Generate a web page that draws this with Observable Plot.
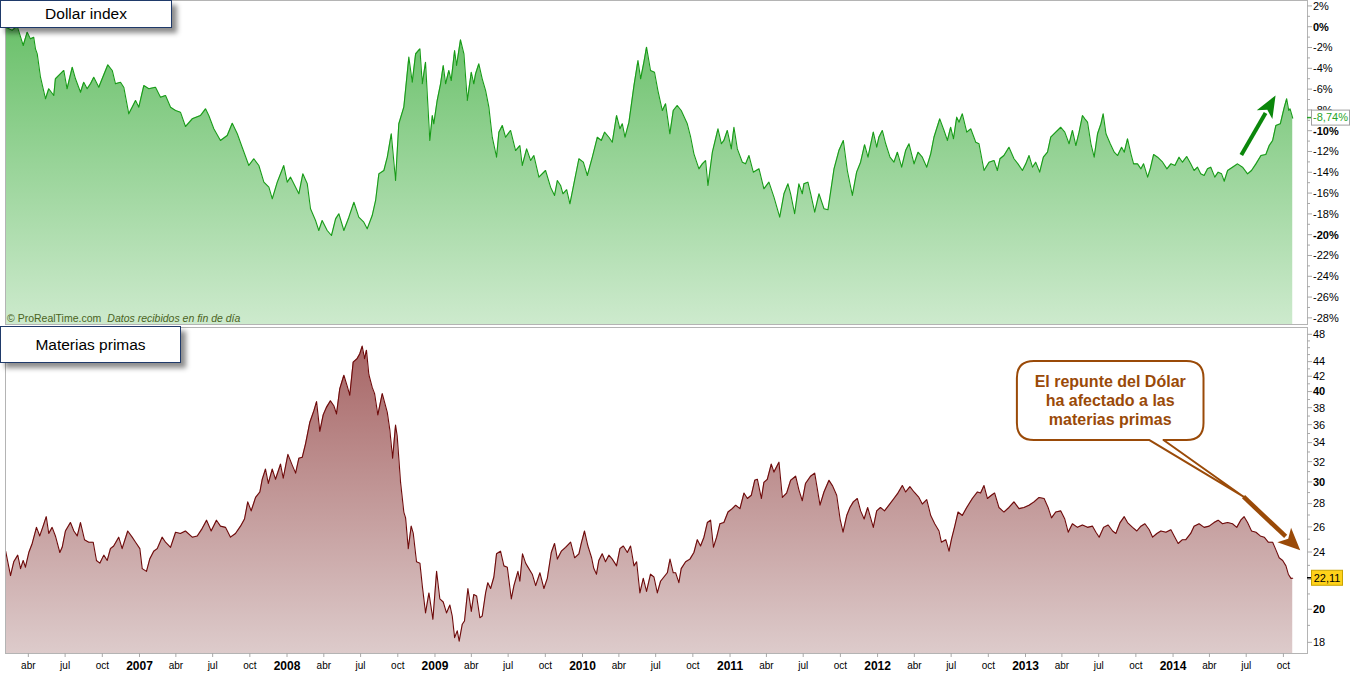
<!DOCTYPE html>
<html><head><meta charset="utf-8">
<script src="https://cdn.jsdelivr.net/npm/d3@7"></script>
<script src="https://cdn.jsdelivr.net/npm/@observablehq/plot@0.6"></script>
<style>
body{margin:0;background:#fff;}
#wrap{position:relative;width:1362px;height:673px;overflow:hidden;font-family:"Liberation Sans",Arial,sans-serif;}
#wrap svg{display:block;}
.title{position:absolute;left:0;background:#fff;border:1.5px solid #1f3a6a;box-sizing:border-box;box-shadow:5px 5px 5px rgba(0,0,0,0.45);font-size:15.5px;color:#000;display:flex;align-items:center;justify-content:center;font-family:"Liberation Sans",Arial,sans-serif;}
</style></head><body>
<div id="wrap"><div id="topPanel"></div><div id="bottomPanel"></div>
<div class="title" style="top:0;width:172px;height:28px;">Dollar index</div>
<div class="title" style="top:326px;width:181px;height:37px;">Materias primas</div>
</div>
<script>
// ---- Dollar index (% change), decimal-year dates ----
const dollarT = [2006.090,2006.134,2006.168,2006.209,2006.236,2006.258,2006.280,2006.292,2006.304,2006.326,2006.360,2006.382,2006.416,2006.427,2006.450,2006.484,2006.506,2006.541,2006.563,2006.597,2006.619,2006.642,2006.665,2006.687,2006.721,2006.744,2006.782,2006.812,2006.834,2006.868,2006.890,2006.924,2006.947,2006.970,2006.992,
2007.026,2007.060,2007.105,2007.139,2007.173,2007.207,2007.241,2007.274,2007.308,2007.354,2007.410,2007.444,2007.466,2007.500,2007.545,2007.591,2007.625,2007.659,2007.692,2007.737,2007.771,2007.805,2007.839,2007.873,2007.896,2007.930,2007.974,2007.997,
2008.020,2008.054,2008.076,2008.103,2008.133,2008.155,2008.189,2008.211,2008.234,2008.268,2008.297,2008.325,2008.347,2008.381,2008.415,2008.449,2008.482,2008.516,2008.539,2008.573,2008.596,2008.618,2008.652,2008.675,2008.702,2008.731,2008.753,2008.787,2008.821,2008.844,2008.867,2008.896,2008.912,2008.934,2008.963,2008.980,2008.990,
2009.013,2009.036,2009.054,2009.070,2009.092,2009.108,2009.131,2009.144,2009.171,2009.194,2009.217,2009.244,2009.261,2009.273,2009.295,2009.318,2009.341,2009.363,2009.386,2009.415,2009.431,2009.454,2009.476,2009.510,2009.544,2009.573,2009.589,2009.619,2009.646,2009.668,2009.702,2009.747,2009.781,2009.808,2009.827,2009.849,2009.865,2009.890,2009.912,2009.939,2009.973,
2010.003,2010.030,2010.064,2010.098,2010.125,2010.147,2010.176,2010.199,2010.228,2010.251,2010.267,2010.285,2010.312,2010.346,2010.373,2010.391,2010.413,2010.431,2010.458,2010.485,2010.508,2010.538,2010.560,2010.589,2010.612,2010.639,2010.666,2010.707,2010.730,2010.752,2010.786,2010.809,2010.831,2010.847,2010.877,2010.915,2010.938,2010.955,2010.978,
2011.005,2011.023,2011.046,2011.080,2011.102,2011.125,2011.154,2011.193,2011.226,2011.260,2011.294,2011.333,2011.362,2011.389,2011.407,2011.434,2011.463,2011.486,2011.497,2011.524,2011.543,2011.570,2011.599,2011.633,2011.660,2011.701,2011.734,2011.764,2011.791,2011.825,2011.854,2011.881,2011.908,2011.931,2011.967,2011.990,
2012.005,2012.028,2012.051,2012.080,2012.107,2012.130,2012.159,2012.186,2012.209,2012.243,2012.270,2012.299,2012.329,2012.356,2012.378,2012.417,2012.446,2012.469,2012.491,2012.510,2012.532,2012.548,2012.570,2012.600,2012.627,2012.661,2012.683,2012.717,2012.751,2012.785,2012.807,2012.825,2012.852,2012.886,2012.920,2012.947,2012.977,
2013.000,2013.022,2013.045,2013.067,2013.094,2013.119,2013.147,2013.169,2013.203,2013.237,2013.264,2013.293,2013.316,2013.339,2013.361,2013.384,2013.400,2013.418,2013.441,2013.463,2013.486,2013.509,2013.524,2013.543,2013.572,2013.599,2013.622,2013.649,2013.667,2013.689,2013.712,2013.730,2013.757,2013.780,2013.798,2013.825,2013.843,2013.866,2013.893,2013.927,2013.956,2013.983,
2014.010,2014.038,2014.061,2014.090,2014.117,2014.140,2014.163,2014.185,2014.208,2014.231,2014.253,2014.280,2014.303,2014.326,2014.344,2014.367,2014.400,2014.434,2014.468,2014.502,2014.529,2014.559,2014.593,2014.626,2014.649,2014.672,2014.694,2014.724,2014.740,2014.751,2014.767,2014.781,2014.790,2014.808];
const dollarV = [0.0,-0.3,0.1,-1.76,-0.48,-1.12,-0.96,-2.08,-2.56,-4.81,-6.88,-5.92,-6.57,-4.96,-4.64,-4.16,-5.92,-3.85,-4.96,-6.25,-5.29,-5.92,-5.44,-4.81,-5.77,-4.96,-3.62,-4.16,-5.44,-5.29,-5.77,-8.33,-7.69,-7.05,-7.69,
-5.61,-5.92,-5.77,-6.73,-6.57,-7.69,-8.01,-8.17,-9.55,-8.81,-8.49,-7.85,-8.49,-9.77,-10.89,-10.41,-9.23,-10.25,-11.54,-13.30,-12.65,-13.30,-14.90,-15.38,-16.50,-14.90,-13.30,-14.90,
-14.42,-15.38,-16.02,-14.10,-15.06,-17.46,-18.59,-19.55,-18.59,-19.55,-20.03,-18.43,-17.94,-19.55,-18.27,-16.83,-18.27,-18.75,-19.39,-18.11,-16.66,-14.10,-13.78,-12.50,-10.25,-14.74,-9.29,-7.69,-2.88,-5.29,-2.56,-2.08,-5.44,-3.37,-10.89,-8.49,-9.29,
-7.05,-5.44,-3.68,-5.44,-4.16,-5.13,-2.24,-3.68,-1.21,-2.56,-7.05,-4.33,-5.44,-4.48,-3.52,-4.96,-6.09,-7.69,-10.58,-12.50,-10.09,-9.45,-10.58,-9.93,-11.86,-11.38,-13.30,-11.70,-12.82,-12.34,-14.42,-13.78,-15.38,-16.18,-14.74,-15.22,-16.02,-15.63,-16.98,-15.06,-12.65,
-12.98,-14.26,-12.50,-10.58,-10.89,-10.09,-10.58,-11.06,-8.49,-9.77,-9.29,-10.58,-9.13,-5.61,-3.20,-4.96,-3.37,-1.92,-4.16,-4.33,-6.09,-8.01,-7.37,-10.25,-8.01,-7.53,-8.01,-9.29,-10.58,-12.18,-13.62,-13.14,-12.82,-15.22,-12.02,-9.77,-11.21,-10.89,-9.93,
-11.70,-9.62,-11.70,-12.98,-13.14,-12.34,-13.94,-13.62,-15.54,-14.90,-16.34,-18.27,-16.02,-15.06,-16.02,-17.94,-15.06,-16.02,-15.06,-14.90,-16.02,-17.79,-16.02,-17.46,-17.56,-13.62,-11.86,-10.89,-13.78,-16.18,-13.94,-12.98,-11.30,-12.50,-10.09,-11.54,
-10.58,-9.93,-11.21,-12.50,-12.98,-12.02,-13.46,-11.86,-11.21,-13.14,-12.02,-12.50,-13.46,-12.18,-10.58,-8.81,-9.93,-10.89,-9.62,-10.73,-8.65,-9.13,-8.33,-10.09,-9.77,-11.06,-11.21,-13.78,-12.98,-12.82,-13.78,-12.65,-12.34,-11.54,-12.65,-13.14,-13.78,
-13.14,-12.34,-13.46,-12.98,-13.94,-12.50,-12.02,-10.58,-10.09,-9.62,-10.09,-11.21,-9.93,-11.38,-10.09,-8.49,-8.81,-9.13,-11.21,-12.50,-10.25,-9.29,-8.33,-10.25,-11.21,-12.02,-12.34,-11.54,-12.02,-10.73,-12.18,-13.14,-13.14,-13.62,-13.14,-14.42,-13.62,-12.24,-12.50,-12.98,-13.62,-13.14,
-13.30,-12.50,-12.98,-12.43,-13.14,-13.78,-13.46,-14.10,-14.26,-13.62,-13.46,-14.42,-13.94,-14.10,-14.81,-13.78,-13.46,-13.14,-13.46,-14.10,-13.78,-13.14,-12.34,-12.24,-11.38,-10.89,-9.45,-9.29,-8.33,-7.69,-6.88,-8.01,-7.85,-8.74];

// ---- Materias primas (index level), decimal-year dates ----
const commodT = [2006.090,2006.123,2006.145,2006.172,2006.191,2006.209,2006.224,2006.247,2006.270,2006.299,2006.321,2006.344,2006.365,2006.382,2006.405,2006.427,2006.457,2006.473,2006.495,2006.529,2006.552,2006.575,2006.597,2006.624,2006.653,2006.683,2006.705,2006.728,2006.755,2006.778,2006.800,2006.822,2006.856,2006.879,2006.917,2006.947,2006.970,2006.999,
2007.015,2007.044,2007.066,2007.093,2007.117,2007.150,2007.173,2007.207,2007.241,2007.274,2007.308,2007.354,2007.388,2007.421,2007.451,2007.482,2007.518,2007.545,2007.579,2007.613,2007.647,2007.681,2007.708,2007.730,2007.753,2007.783,2007.812,2007.828,2007.850,2007.869,2007.896,2007.918,2007.952,2007.970,
2008.002,2008.031,2008.054,2008.076,2008.099,2008.121,2008.150,2008.178,2008.196,2008.218,2008.241,2008.263,2008.290,2008.313,2008.331,2008.353,2008.381,2008.403,2008.421,2008.444,2008.471,2008.489,2008.505,2008.521,2008.534,2008.550,2008.573,2008.589,2008.611,2008.641,2008.675,2008.692,2008.711,2008.731,2008.742,2008.765,2008.787,2008.799,2008.817,2008.837,2008.851,2008.873,2008.896,2008.912,2008.934,2008.957,2008.984,
2009.009,2009.031,2009.054,2009.076,2009.099,2009.115,2009.131,2009.149,2009.162,2009.183,2009.198,2009.221,2009.244,2009.261,2009.280,2009.302,2009.318,2009.341,2009.356,2009.375,2009.397,2009.415,2009.442,2009.465,2009.488,2009.515,2009.533,2009.560,2009.573,2009.591,2009.612,2009.634,2009.657,2009.680,2009.709,2009.736,2009.759,2009.786,2009.808,2009.827,2009.854,2009.883,2009.917,2009.944,2009.973,2009.989,
2010.011,2010.034,2010.059,2010.074,2010.092,2010.108,2010.131,2010.153,2010.176,2010.199,2010.228,2010.251,2010.274,2010.301,2010.323,2010.346,2010.364,2010.386,2010.409,2010.431,2010.458,2010.481,2010.504,2010.526,2010.549,2010.572,2010.590,2010.612,2010.628,2010.650,2010.666,2010.696,2010.725,2010.752,2010.775,2010.797,2010.820,2010.843,2010.865,2010.884,2010.906,2010.928,2010.955,2010.983,
2011.012,2011.035,2011.064,2011.091,2011.114,2011.141,2011.164,2011.182,2011.209,2011.226,2011.249,2011.276,2011.294,2011.328,2011.351,2011.380,2011.407,2011.441,2011.463,2011.486,2011.508,2011.542,2011.570,2011.606,2011.633,2011.667,2011.690,2011.719,2011.742,2011.762,2011.787,2011.809,2011.832,2011.859,2011.881,2011.905,2011.929,2011.967,2011.990,
2012.016,2012.043,2012.073,2012.107,2012.134,2012.164,2012.186,2012.215,2012.243,2012.276,2012.299,2012.329,2012.356,2012.383,2012.412,2012.428,2012.458,2012.480,2012.496,2012.519,2012.541,2012.570,2012.600,2012.638,2012.672,2012.694,2012.717,2012.740,2012.767,2012.789,2012.818,2012.852,2012.886,2012.920,2012.954,2012.988,
2013.022,2013.056,2013.090,2013.124,2013.151,2013.174,2013.203,2013.237,2013.264,2013.287,2013.316,2013.350,2013.384,2013.418,2013.452,2013.475,2013.497,2013.527,2013.558,2013.588,2013.610,2013.639,2013.667,2013.689,2013.723,2013.752,2013.780,2013.807,2013.836,2013.859,2013.888,2013.915,2013.949,2013.983,
2014.005,2014.032,2014.061,2014.084,2014.117,2014.140,2014.174,2014.208,2014.242,2014.275,2014.303,2014.332,2014.367,2014.400,2014.429,2014.456,2014.479,2014.502,2014.529,2014.559,2014.588,2014.615,2014.642,2014.672,2014.694,2014.716,2014.740,2014.762,2014.778,2014.796,2014.808];
const commodV = [24.1,22.3,23.3,23.8,22.8,23.4,22.9,24.0,24.7,26.0,25.3,26.1,26.9,25.5,26.0,25.3,24.0,24.4,25.7,26.4,25.7,25.3,26.4,25.0,24.8,24.8,23.4,23.2,23.8,23.4,24.3,24.5,25.2,24.3,25.7,25.2,24.8,24.3,
22.8,22.6,23.5,24.1,24.3,25.2,24.8,24.4,25.6,25.5,25.7,25.2,25.3,25.9,26.6,25.7,26.6,26.1,26.0,25.2,25.5,26.1,26.7,28.2,27.4,28.6,29.1,30.3,31.3,29.9,31.3,30.3,31.8,30.4,
32.8,31.7,30.9,32.4,32.5,33.9,36.3,37.7,38.8,35.3,37.2,38.1,38.9,38.3,37.3,40.4,42.2,40.8,39.6,44.0,44.5,45.2,46.3,44.5,45.7,42.3,40.6,39.8,37.2,39.8,37.5,35.5,32.4,36.0,34.8,30.0,27.3,26.8,24.3,26.1,25.5,23.3,23.2,21.6,19.8,21.1,19.4,
22.6,20.7,20.5,19.8,20.3,19.6,18.3,18.7,18.1,19.1,19.3,21.4,19.9,21.0,20.9,19.5,19.6,21.1,21.8,21.4,22.2,23.9,24.1,23.0,22.9,20.7,21.6,22.6,21.9,23.9,23.2,22.8,22.4,21.6,22.5,21.4,22.1,24.0,24.7,23.5,24.1,24.4,24.8,23.6,23.9,24.7,
25.7,24.5,23.6,22.8,22.4,23.4,23.9,23.3,23.8,23.5,23.0,24.3,24.5,24.0,24.5,23.0,23.3,21.1,22.1,21.2,22.4,22.2,21.1,21.9,22.2,22.5,23.5,22.5,22.5,21.8,22.8,23.3,23.5,24.0,25.0,24.5,25.2,26.4,26.6,24.4,25.2,26.3,26.4,27.3,
27.6,27.9,27.6,29.0,28.5,28.8,30.2,30.3,28.5,30.0,30.3,31.8,31.0,32.0,28.6,29.0,30.2,30.6,29.3,28.3,29.9,30.6,30.9,27.9,29.1,30.2,29.7,28.8,26.7,25.6,27.0,27.7,28.2,28.5,27.4,26.7,27.7,26.0,27.4,
27.7,27.4,27.9,28.5,29.0,29.7,29.1,29.6,29.1,28.6,28.0,28.4,27.0,26.3,25.7,24.8,25.0,24.1,25.0,26.1,27.3,27.0,27.7,28.5,29.1,29.0,29.7,28.5,28.8,29.0,27.7,27.3,27.7,28.2,27.6,27.7,
27.9,28.2,28.6,28.5,27.7,26.8,27.3,27.4,26.7,25.6,26.3,26.0,26.2,26.0,26.1,25.6,25.2,26.0,26.2,25.7,25.5,26.4,26.9,26.4,26.0,25.7,26.1,26.3,25.8,25.2,25.5,25.7,25.6,25.8,
25.3,24.7,25.0,25.0,25.5,26.1,26.3,26.0,26.1,26.4,26.6,26.3,26.4,26.3,26.0,26.6,26.9,26.4,25.7,25.6,25.3,25.2,24.8,24.8,24.2,23.6,23.4,23.0,22.4,22.1,22.11];

// ---- axis ticks & labels ----
const dollarTicks = [2,0,-2,-4,-6,-8,-10,-12,-14,-16,-18,-20,-22,-24,-26,-28];
const dollarLabels = [2,0,-2,-4,-6,-8,-10,-12,-14,-16,-18,-20,-22,-24,-26,-28];
const dollarBold = [0,-10,-20];
const commodTicks = [48,44,42,40,38,36,34,32,30,28,26,24,22,20,18];
const commodLabels = [48,44,42,40,38,36,34,32,30,28,26,24,20,18];
const commodBold = [40,30,20];
const yearLabels = [2007,2008,2009,2010,2011,2012,2013,2014];
const quarterMonths = [3,6,9];
const quarterLabels = ["abr","jul","oct"];
const calloutLines = ["El repunte del Dólar","ha afectado a las","materias primas"];

const FONT = '"Liberation Sans", Arial, sans-serif';
const toDate = t => new Date(Date.UTC(2007,0,1) + (t-2007)*365.25*864e5);
const dollar = dollarT.map((t,i)=>({date: toDate(t), v: dollarV[i]}));
const commod = commodT.map((t,i)=>({date: toDate(t), v: commodV[i]}));
const xDomain = [toDate(2006.089), toDate(2014.908)];
const dMin = -28.59, dMax = 2.57;
const cMin = 17.40, cMax = 49.13;
const W = 1362, ML = 5, MR = 55;
const xr = W - MR;

function scaleOf(chart, name){
  const s = chart.scale(name);
  if (s && typeof s.apply === "function") return v => s.apply(v);
  const d = s.type === "log" ? d3.scaleLog() : (s.type === "utc" ? d3.scaleUtc() : (s.type === "time" ? d3.scaleTime() : d3.scaleLinear()));
  return d.domain(s.domain).range(s.range);
}

function addGradient(svg, id, y1, y2, c1, c2){
  const defs = d3.select(svg).insert("defs", ":first-child");
  const g = defs.append("linearGradient").attr("id", id).attr("gradientUnits","userSpaceOnUse")
    .attr("x1",0).attr("x2",0).attr("y1",y1).attr("y2",y2);
  g.append("stop").attr("offset",0).attr("stop-color",c1);
  g.append("stop").attr("offset",1).attr("stop-color",c2);
}

function drawY(svg, y, majors, labels, bold, fmt, lo, hi){
  const g = d3.select(svg).append("g").attr("font-family", FONT).attr("font-size", 11).attr("fill", "#000").attr("text-anchor", "start");
  for (let v = Math.ceil(lo); v <= Math.floor(hi); v++) {
    if (majors.includes(v)) continue;
    g.append("line").attr("x1", xr).attr("x2", xr+3).attr("y1", y(v)).attr("y2", y(v)).attr("stroke", "#a8a8a8");
  }
  for (const v of majors) {
    g.append("line").attr("x1", xr).attr("x2", xr+5).attr("y1", y(v)).attr("y2", y(v)).attr("stroke", "#a8a8a8");
  }
  for (const v of labels) {
    g.append("text").attr("x", xr+6).attr("y", y(v)).attr("dy","0.35em")
      .attr("font-weight", bold.includes(v) ? "bold" : "normal").text(fmt(v));
  }
  return g;
}

function arrow(g, p0, p1, color, width, L, hw){
  const dx = p1[0]-p0[0], dy = p1[1]-p0[1], len = Math.hypot(dx,dy);
  const ux = dx/len, uy = dy/len, nx = -uy, ny = ux;
  const b = [p1[0]-ux*L, p1[1]-uy*L];
  g.append("line").attr("x1",p0[0]).attr("y1",p0[1]).attr("x2",b[0]+ux*2).attr("y2",b[1]+uy*2)
    .attr("stroke",color).attr("stroke-width",width);
  g.append("path").attr("d", `M${p1[0]},${p1[1]}L${b[0]+nx*hw},${b[1]+ny*hw}L${b[0]+ux*L*0.25},${b[1]+uy*L*0.25}L${b[0]-nx*hw},${b[1]-ny*hw}Z`)
    .attr("fill", color);
}

// ---------------- TOP PANEL ----------------
const topChart = Plot.plot({
  width: W, height: 325, marginLeft: ML, marginRight: MR, marginTop: 0, marginBottom: 1,
  x: {type: "utc", domain: xDomain, axis: null},
  y: {type: "linear", domain: [dMin, dMax], axis: null},
  style: {fontFamily: FONT, background: "white", overflow: "visible"},
  marks: [
    Plot.areaY(dollar, {x: "date", y1: () => dMin, y2: "v", fill: "url(#gradTop)"}),
    Plot.lineY(dollar, {x: "date", y: "v", stroke: "#179b17", strokeWidth: 1.1}),
    Plot.frame({stroke: "#b4b4b4"})
  ]
});
addGradient(topChart, "gradTop", 0, 324, "#62bd62", "#cdeacd");
document.getElementById("topPanel").appendChild(topChart);
{
  const x = scaleOf(topChart, "x"), y = scaleOf(topChart, "y");
  drawY(topChart, y, dollarTicks, dollarLabels, dollarBold, v => `${v}%`, -28, 2);
  const s = d3.select(topChart);
  const t = s.append("text").attr("x", 7).attr("y", 322).attr("text-anchor", "start").attr("font-family", FONT).attr("font-size", 10.5).attr("fill", "#4a6322");
  t.append("tspan").text("© ProRealTime.com");
  t.append("tspan").attr("dx", 6).attr("font-style","italic").text("Datos recibidos en fin de día");
  const last = dollar[dollar.length-1];
  const ly = y(last.v);
  s.append("line").attr("x1", xr).attr("x2", xr+5).attr("y1", ly).attr("y2", ly).attr("stroke", "#2aa52a").attr("stroke-width", 1.5);
  s.append("rect").attr("x", xr+4.5).attr("y", ly-7.5).attr("width", 38).attr("height", 15).attr("fill", "#fff").attr("stroke", "#a0a0a0");
  s.append("text").attr("x", xr+23.5).attr("y", ly).attr("dy","0.35em").attr("text-anchor","middle").attr("font-family", FONT).attr("font-size", 11).attr("fill", "#2aa52a")
    .text(last.v.toFixed(2).replace(".", ",") + "%");
  const ga = s.append("g");
  arrow(ga, [x(toDate(2014.463)), y(-12.34)], [x(toDate(2014.695)), y(-6.62)], "#0b870b", 4, 22, 9);
}

// ---------------- BOTTOM PANEL ----------------
const bottomChart = Plot.plot({
  width: W, height: 348, marginLeft: ML, marginRight: MR, marginTop: 2, marginBottom: 20,
  x: {type: "utc", domain: xDomain, axis: null},
  y: {type: "log", domain: [cMin, cMax], axis: null},
  style: {fontFamily: FONT, background: "white", overflow: "visible"},
  marks: [
    Plot.areaY(commod, {x: "date", y1: () => cMin, y2: "v", fill: "url(#gradBot)"}),
    Plot.lineY(commod, {x: "date", y: "v", stroke: "#6e0a0a", strokeWidth: 1.1}),
    Plot.frame({stroke: "#b4b4b4"})
  ]
});
addGradient(bottomChart, "gradBot", 2, 328, "#a46060", "#ddcbcb");
document.getElementById("bottomPanel").appendChild(bottomChart);
{
  const x = scaleOf(bottomChart, "x"), y = scaleOf(bottomChart, "y");
  drawY(bottomChart, y, commodTicks, commodLabels, commodBold, v => `${v}`, 18, 48);
  const s = d3.select(bottomChart);
  const ax = s.append("g").attr("font-family", FONT).attr("fill", "#000").attr("text-anchor", "middle");
  const yb = 328;
  for (let yr = 2006; yr <= 2014; yr++) {
    if (yearLabels.includes(yr)) {
      const px = x(new Date(Date.UTC(yr,0,1)));
      ax.append("line").attr("x1",px).attr("x2",px).attr("y1",yb).attr("y2",yb+4).attr("stroke","#a8a8a8");
      ax.append("text").attr("x",px).attr("y",yb+17).attr("font-size",12).attr("font-weight","bold").text(String(yr));
    }
    quarterMonths.forEach((m,i) => {
      const d = new Date(Date.UTC(yr,m,1));
      if (d < xDomain[0] || d > xDomain[1]) return;
      const px = x(d);
      ax.append("line").attr("x1",px).attr("x2",px).attr("y1",yb).attr("y2",yb+4).attr("stroke","#a8a8a8");
      ax.append("text").attr("x",px).attr("y",yb+16).attr("font-size",10).text(quarterLabels[i]);
    });
  }
  const last = commod[commod.length-1];
  const ly = y(last.v);
  s.append("line").attr("x1", xr).attr("x2", xr+5).attr("y1", ly).attr("y2", ly).attr("stroke", "#000").attr("stroke-width", 1.5);
  s.append("rect").attr("x", xr+4.5).attr("y", ly-7.5).attr("width", 31).attr("height", 15).attr("fill", "#ffd21a").attr("stroke", "#c9a400");
  s.append("text").attr("x", xr+20).attr("y", ly).attr("dy","0.35em").attr("text-anchor","middle").attr("font-family", FONT).attr("font-size", 11).attr("fill", "#000")
    .text(last.v.toFixed(2).replace(".", ","));
  const brown = "#9a4a08";
  const bx0 = x(toDate(2012.943)), bx1 = x(toDate(2014.207));
  const by0 = y(44.09), by1 = y(34.28);
  const tipL = x(toDate(2013.841)), tipR = x(toDate(2013.936));
  const tip = [x(toDate(2014.478)), y(28.62)];
  const r = 17;
  const path = `M${tipL},${by1}L${bx0+r},${by1}Q${bx0},${by1} ${bx0},${by1-r}L${bx0},${by0+r}Q${bx0},${by0} ${bx0+r},${by0}` +
    `L${bx1-r},${by0}Q${bx1},${by0} ${bx1},${by0+r}L${bx1},${by1-r}Q${bx1},${by1} ${bx1-r},${by1}L${tipR},${by1}L${tip[0]},${tip[1]}Z`;
  const cg = s.append("g");
  cg.append("path").attr("d", path).attr("fill", "#fff").attr("stroke", brown).attr("stroke-width", 2).attr("stroke-linejoin","round");
  const cx = (bx0+bx1)/2, cy = (by0+by1)/2;
  calloutLines.forEach((ln, i) => {
    cg.append("text").attr("x", cx).attr("y", cy + (i-1)*19 + 5.5).attr("text-anchor","middle")
      .attr("font-family", FONT).attr("font-size", 16).attr("font-weight","bold").attr("fill", brown).text(ln);
  });
  arrow(cg, tip, [x(toDate(2014.862)), y(24.14)], brown, 4.5, 22, 10);
}
</script>
</body></html>
